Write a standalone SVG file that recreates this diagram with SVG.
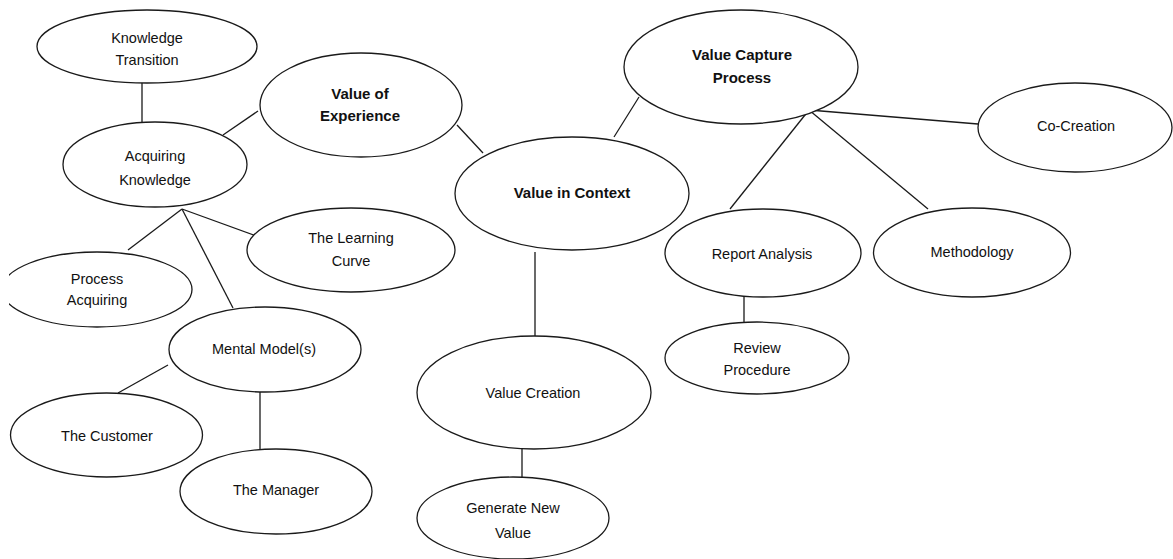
<svg xmlns="http://www.w3.org/2000/svg" width="1173" height="559" viewBox="0 0 1173 559">
  <defs>
    <style>
      .node ellipse { fill: #ffffff; stroke: #1a1a1a; stroke-width: 1.3; }
      .node text { font-family: "Liberation Sans", Arial, sans-serif; font-size: 14.5px; fill: #111111; text-anchor: middle; }
      .node text.b { font-weight: bold; font-size: 15px; }
      .links line { stroke: #1a1a1a; stroke-width: 1.3; }
    </style>
    <clipPath id="leftEdge">
      <rect x="9" y="0" width="1164" height="559"/>
    </clipPath>
  </defs>
  <rect width="1173" height="559" fill="#ffffff"/>

  <g class="links">
    <line x1="142" y1="82" x2="142" y2="123"/>
    <line x1="223" y1="135" x2="258" y2="111"/>
    <line x1="457" y1="125" x2="483" y2="153"/>
    <line x1="182" y1="209" x2="128" y2="250"/>
    <line x1="182" y1="209" x2="233" y2="308"/>
    <line x1="182" y1="209" x2="259" y2="237"/>
    <line x1="168" y1="365" x2="118" y2="393"/>
    <line x1="260" y1="392" x2="260" y2="449"/>
    <line x1="614" y1="137" x2="639" y2="97"/>
    <line x1="535" y1="252" x2="535" y2="336"/>
    <line x1="522" y1="449" x2="522" y2="477"/>
    <line x1="809" y1="110" x2="730" y2="209"/>
    <line x1="809" y1="110" x2="928" y2="209"/>
    <line x1="809" y1="110" x2="978" y2="124"/>
    <line x1="744" y1="293" x2="744" y2="322"/>
  </g>

  <g id="knowledge-transition" class="node">
    <ellipse cx="147" cy="46.5" rx="110" ry="36.5"/>
    <text x="147" y="43">Knowledge</text>
    <text x="147" y="65">Transition</text>
  </g>

  <g id="value-of-experience" class="node">
    <ellipse cx="361" cy="105" rx="101" ry="52"/>
    <text class="b" x="360" y="99">Value of</text>
    <text class="b" x="360" y="121">Experience</text>
  </g>

  <g id="acquiring-knowledge" class="node">
    <ellipse cx="155" cy="164.5" rx="92" ry="42.5"/>
    <text x="155" y="161">Acquiring</text>
    <text x="155" y="185">Knowledge</text>
  </g>

  <g id="learning-curve" class="node">
    <ellipse cx="351" cy="250" rx="104" ry="42"/>
    <text x="351" y="243">The Learning</text>
    <text x="351" y="266">Curve</text>
  </g>

  <g id="process-acquiring" class="node" clip-path="url(#leftEdge)">
    <ellipse cx="97" cy="289.5" rx="95" ry="37.5"/>
    <text x="97" y="284">Process</text>
    <text x="97" y="305">Acquiring</text>
  </g>

  <g id="mental-models" class="node">
    <ellipse cx="265" cy="349.5" rx="96" ry="42.5"/>
    <text x="264" y="354">Mental Model(s)</text>
  </g>

  <g id="the-customer" class="node">
    <ellipse cx="106.5" cy="435" rx="96" ry="42"/>
    <text x="107" y="441">The Customer</text>
  </g>

  <g id="the-manager" class="node">
    <ellipse cx="276" cy="491.5" rx="96" ry="42.5"/>
    <text x="276" y="495">The Manager</text>
  </g>

  <g id="value-in-context" class="node">
    <ellipse cx="572" cy="193.5" rx="117" ry="56.5"/>
    <text class="b" x="572" y="198">Value in Context</text>
  </g>

  <g id="value-creation" class="node">
    <ellipse cx="534" cy="392.5" rx="117" ry="56.5"/>
    <text x="533" y="398">Value Creation</text>
  </g>

  <g id="generate-new-value" class="node">
    <ellipse cx="513" cy="518" rx="96" ry="41"/>
    <text x="513" y="513">Generate New</text>
    <text x="513" y="538">Value</text>
  </g>

  <g id="value-capture-process" class="node">
    <ellipse cx="741" cy="67" rx="117" ry="57"/>
    <text class="b" x="742" y="60">Value Capture</text>
    <text class="b" x="742" y="83">Process</text>
  </g>

  <g id="co-creation" class="node">
    <ellipse cx="1075" cy="127.5" rx="97" ry="44.5"/>
    <text x="1076" y="131">Co-Creation</text>
  </g>

  <g id="report-analysis" class="node">
    <ellipse cx="763" cy="253" rx="98" ry="44"/>
    <text x="762" y="259">Report Analysis</text>
  </g>

  <g id="methodology" class="node">
    <ellipse cx="972" cy="252.5" rx="98.5" ry="44.5"/>
    <text x="972" y="257">Methodology</text>
  </g>

  <g id="review-procedure" class="node">
    <ellipse cx="757" cy="358" rx="92" ry="36"/>
    <text x="757" y="353">Review</text>
    <text x="757" y="375">Procedure</text>
  </g>
</svg>
